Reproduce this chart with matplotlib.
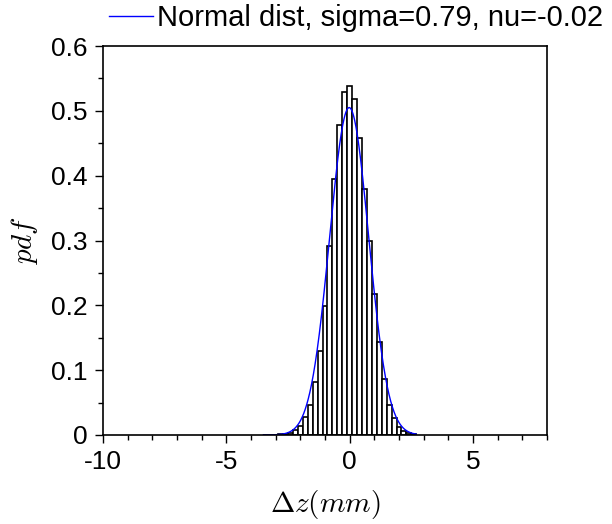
import numpy as np
import matplotlib
matplotlib.use("Agg")
import matplotlib.pyplot as plt
from matplotlib.ticker import MultipleLocator

# -----------------------------------------------------------------------------
# Data (histogram of dz, bin width 0.2 mm)
# -----------------------------------------------------------------------------
bin_edges = [-3.5 + 0.2 * k for k in range(32)]
bin_heights = [0.0005, 0.0005, 0.0005, 0.001, 0.0015, 0.003, 0.0075, 0.014,
               0.028, 0.047, 0.081, 0.130, 0.199, 0.292, 0.395, 0.478,
               0.529, 0.538, 0.518, 0.458, 0.379, 0.300, 0.2175, 0.144,
               0.086, 0.047, 0.026, 0.0128, 0.0067, 0.0026, 0.001]

sigma = 0.79
nu = -0.02
legend_label = "Normal dist, sigma=0.79, nu=-0.02"

x_ticks = [-10, -5, 0, 5]
y_ticks = [0, 0.1, 0.2, 0.3, 0.4, 0.5, 0.6]
y_tick_labels = ["0", "0.1", "0.2", "0.3", "0.4", "0.5", "0.6"]

# -----------------------------------------------------------------------------
# Figure
# -----------------------------------------------------------------------------
plt.rcParams["font.family"] = ["Liberation Sans", "DejaVu Sans"]
plt.rcParams["mathtext.fontset"] = "cm"
plt.rcParams["axes.unicode_minus"] = False

fig = plt.figure(figsize=(6.12, 5.24), dpi=100)
ax = fig.add_axes([103 / 612, 89 / 524, 444 / 612, 389 / 524])

lefts = np.array(bin_edges[:-1])
widths = np.diff(bin_edges)
ax.bar(lefts, bin_heights, width=widths, align="edge", color="white",
       edgecolor="black", linewidth=1.2, zorder=2)

# fitted normal curve, drawn over the data range only
xs = np.linspace(bin_edges[0], bin_edges[-1], 600)
pdf = np.exp(-0.5 * ((xs - nu) / sigma) ** 2) / (sigma * np.sqrt(2 * np.pi))
line, = ax.plot(xs, pdf, color="#0000ff", linewidth=1.0, zorder=3,
                label=legend_label)

ax.set_xlim(-10, 8)
ax.set_ylim(0, 0.6)
ax.set_xticks(x_ticks)
ax.set_yticks(y_ticks)
ax.set_yticklabels(y_tick_labels)
ax.xaxis.set_minor_locator(MultipleLocator(1))
ax.yaxis.set_minor_locator(MultipleLocator(0.05))
ax.tick_params(which="major", direction="out", length=6, width=1,
               labelsize=19, pad=5)
ax.tick_params(which="minor", direction="out", length=3.5, width=1)
for s in ax.spines.values():
    s.set_linewidth(1.2)
    s.set_zorder(4)

ax.set_xlabel(r"$\Delta z(mm)$", fontsize=21, labelpad=10)
ax.set_ylabel(r"$pdf$", fontsize=21, labelpad=8)

fig.legend(handles=[line], loc="center left",
           bbox_to_anchor=(109 / 612, 1 - 18 / 524), frameon=False,
           borderpad=0, borderaxespad=0, handlelength=1.5,
           handletextpad=0.15, fontsize=21)

fig.savefig("out.png", dpi=100)
